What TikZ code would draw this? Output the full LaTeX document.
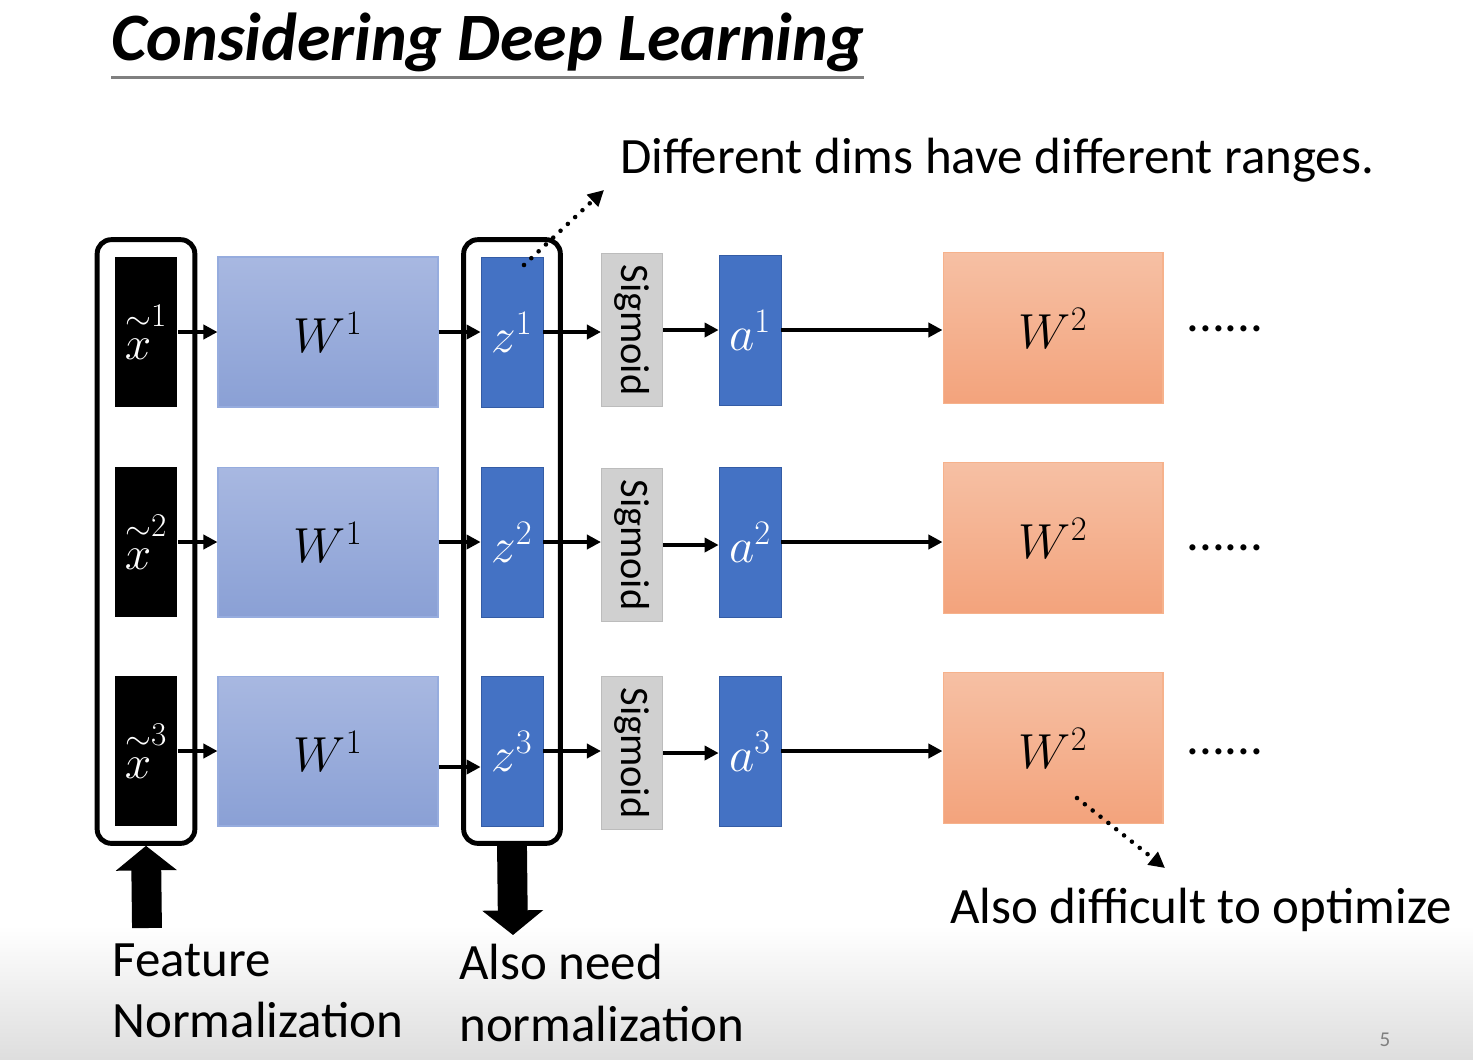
\RequirePackage{fix-cm}
\documentclass[tikz,border=0pt]{standalone}
\usepackage{amsmath}
\usepackage{fontspec}
\setmainfont{Carlito}
\usetikzlibrary{arrows.meta,fit}
\definecolor{wOneTop}{RGB}{168,184,225}
\definecolor{wOneBot}{RGB}{138,160,213}
\definecolor{wOneLine}{RGB}{150,172,222}
\definecolor{unitBlue}{RGB}{68,114,196}
\definecolor{unitLine}{RGB}{52,92,165}
\definecolor{sigGray}{RGB}{208,208,208}
\definecolor{sigLine}{RGB}{188,188,188}
\definecolor{wTwoTop}{RGB}{246,192,164}
\definecolor{wTwoBot}{RGB}{243,163,124}
\definecolor{wTwoLine}{RGB}{246,178,140}

\begin{document}
\begin{tikzpicture}[x=0.02cm, y=-0.02cm,
    inbox/.style={fill=black, text=white, minimum width=1.26cm, minimum height=3cm, inner sep=0pt,
      font=\fontsize{27}{30}\selectfont},
    wonebox/.style={top color=wOneTop, bottom color=wOneBot, draw=wOneLine, line width=0.6pt,
      minimum width=4.4cm, minimum height=3cm, inner sep=0pt, font=\fontsize{28}{32}\selectfont},
    unitbox/.style={fill=unitBlue, draw=unitLine, line width=0.4pt, text=white, minimum width=1.24cm,
      minimum height=3cm, inner sep=0pt, font=\fontsize{28}{32}\selectfont},
    sigbox/.style={fill=sigGray, draw=sigLine, line width=0.6pt, minimum width=1.22cm,
      minimum height=3.06cm, inner sep=0pt, font=\fontsize{23}{26}\selectfont},
    wtwobox/.style={top color=wTwoTop, bottom color=wTwoBot, draw=wTwoLine, line width=0.6pt,
      minimum width=4.4cm, minimum height=3.02cm, inner sep=0pt, font=\fontsize{28}{32}\selectfont},
    words/.style={font=\fontsize{29}{35}\selectfont, inner sep=0pt},
    frame/.style={draw, line width=2.8pt, rounded corners=8pt, inner sep=0.34cm},
    flowarrow/.style={line width=2.2pt, -{Triangle[length=8pt,width=8pt]}},
    hint/.style={line width=2.6pt, line cap=round, dash pattern=on 0pt off 5.7pt,
      -{Triangle[length=9pt,width=9pt]}},
    bigarrow/.style={line width=17pt, -{Triangle[length=14pt,width=34pt]}}]
  \useasboundingbox (0,0) rectangle (1473,1059);
  \shade[top color=white, bottom color=black!13] (0,925) rectangle (1473,1059);

  % Title
  \node[anchor=base west, inner sep=0pt, font=\fontsize{38.6}{44}\selectfont\bfseries\itshape] (title)
    at (111,60) {Considering Deep Learning};
  \draw[gray, line width=1.7pt] ([yshift=-3pt]title.south west) -- ([yshift=-3pt]title.south east);

  % Row 1
  \node[inbox] (xin1) at (146,332) {$\overset{\sim}{x}^{1}$};
  \node[wonebox] (wone1) at (328,332) {$W^1$};
  \node[unitbox] (z1) at (512,332) {$z^{1}$};
  \node[sigbox] (sig1) at (632,330) {\rotatebox{-90}{Sigmoid}};
  \node[unitbox] (a1) at (750,330) {$a^{1}$};
  \node[wtwobox] (wtwo1) at (1053,328) {$W^2$};
  \node[words] (more1) at (1225,329) {......};
  % Row 2
  \node[inbox] (xin2) at (146,542) {$\overset{\sim}{x}^{2}$};
  \node[wonebox] (wone2) at (328,542) {$W^1$};
  \node[unitbox] (z2) at (512,542) {$z^{2}$};
  \node[sigbox] (sig2) at (632,545) {\rotatebox{-90}{Sigmoid}};
  \node[unitbox] (a2) at (750,542) {$a^{2}$};
  \node[wtwobox] (wtwo2) at (1053,538) {$W^2$};
  \node[words] (more2) at (1225,548) {......};
  % Row 3
  \node[inbox] (xin3) at (146,751) {$\overset{\sim}{x}^{3}$};
  \node[wonebox] (wone3) at (328,751) {$W^1$};
  \node[unitbox] (z3) at (512,751) {$z^{3}$};
  \node[sigbox] (sig3) at (632,753) {\rotatebox{-90}{Sigmoid}};
  \node[unitbox] (a3) at (750,751) {$a^{3}$};
  \node[wtwobox] (wtwo3) at (1053,748) {$W^2$};
  \node[words] (more3) at (1225,752) {......};

  \draw[flowarrow] (xin1.east) -- (xin1.east -| wone1.west);
  \draw[flowarrow] (wone1.east) -- (wone1.east -| z1.west);
  \draw[flowarrow] (z1.east) -- (z1.east -| sig1.west);
  \draw[flowarrow] (sig1.east) -- (sig1.east -| a1.west);
  \draw[flowarrow] (a1.east) -- (a1.east -| wtwo1.west);

  \draw[flowarrow] (xin2.east) -- (xin2.east -| wone2.west);
  \draw[flowarrow] (wone2.east) -- (wone2.east -| z2.west);
  \draw[flowarrow] (z2.east) -- (z2.east -| sig2.west);
  \draw[flowarrow] (sig2.east) -- (sig2.east -| a2.west);
  \draw[flowarrow] (a2.east) -- (a2.east -| wtwo2.west);

  \draw[flowarrow] (xin3.east) -- (xin3.east -| wone3.west);
  \draw[flowarrow] ([yshift=-0.32cm]wone3.east) -- ([yshift=-0.32cm]wone3.east -| z3.west);
  \draw[flowarrow] (z3.east) -- (z3.east -| sig3.west);
  \draw[flowarrow] (sig3.east) -- (sig3.east -| a3.west);
  \draw[flowarrow] (a3.east) -- (a3.east -| wtwo3.west);

  \node[frame, fit=(xin1)(xin3)] (xframe) {};
  \node[frame, fit=(z1)(z3)] (zframe) {};

  % Notes
  \node[words, anchor=base west] (rangesnote) at (620,173) {Different dims have different ranges.};
  \node[words, anchor=base west] (optnote) at (950,923) {Also difficult to optimize};
  \node[words, align=left, anchor=north west] (featnote) at (112,943) {Feature\\Normalization};
  \node[words, align=left, anchor=north west] (neednote) at (459,944) {Also need\\normalization};
  \node[font=\fontsize{12}{14}\selectfont, text=gray] (pagenum) at (1385,1040) {5};

  \coordinate (rangesfrom) at (524,265);
  \coordinate (rangesto) at (604,190);
  \draw[hint] (rangesfrom) -- (rangesto);
  \coordinate (optfrom) at (1077,798);
  \coordinate (optto) at (1165,868);
  \draw[hint] (optfrom) -- (optto);

  % Big arrows
  \coordinate (featfoot) at (147,928);
  \draw[bigarrow] (featfoot) -- (xframe.south);
  \coordinate (zfoot) at (513,935);
  \draw[bigarrow] (zframe.south) -- (zfoot);
\end{tikzpicture}
\end{document}
